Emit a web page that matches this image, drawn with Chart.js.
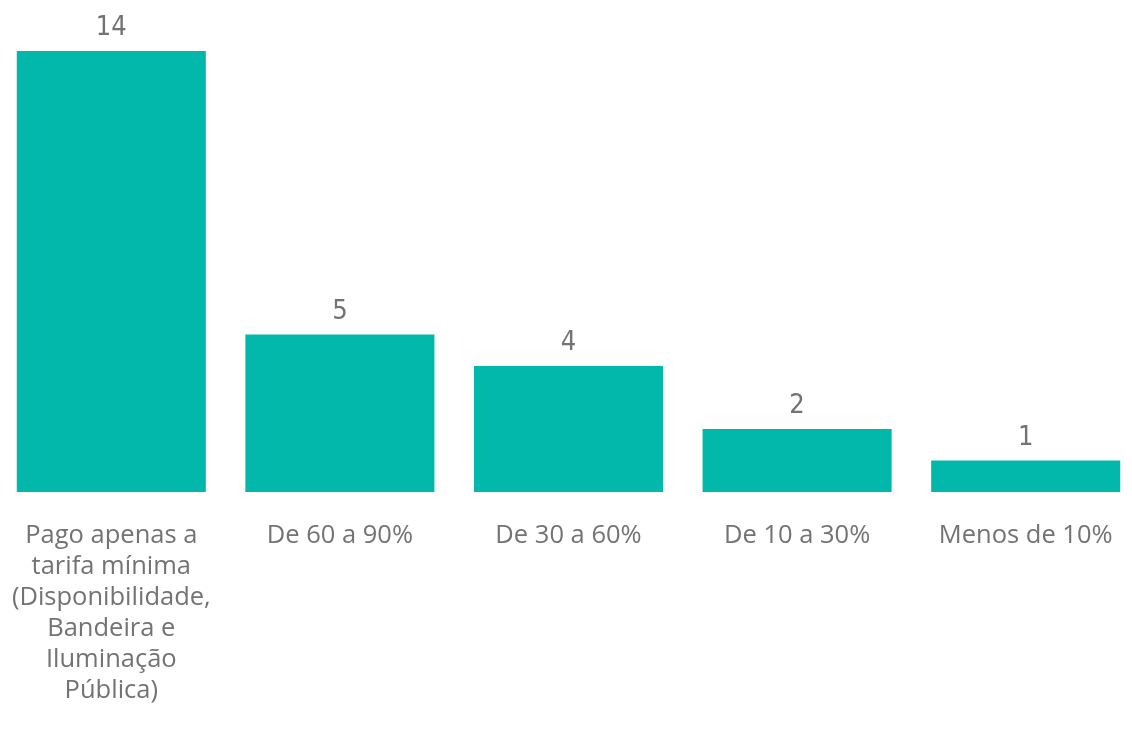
<!DOCTYPE html>
<html>
<head>
<meta charset="utf-8">
<script src="https://cdn.jsdelivr.net/npm/chart.js@4"></script>
<style>
  html, body { margin: 0; padding: 0; background: #fff; overflow: hidden; }
  #wrap { position: absolute; left: -3px; top: 0; width: 1143px; height: 731px; }
</style>
</head>
<body>
<div id="wrap"><canvas id="myChart"></canvas></div>
<script>
var categorias = [
    ['Pago apenas a', 'tarifa mínima', '(Disponibilidade,', 'Bandeira e', 'Iluminação', 'Pública)'],
    'De 60 a 90%',
    'De 30 a 60%',
    'De 10 a 30%',
    'Menos de 10%'
];
var respostas = [14, 5, 4, 2, 1];

// draws the number above each bar
var valoresPlugin = {
    id: 'valores',
    afterDatasetsDraw: function(chart) {
        var ctx = chart.ctx;
        var meta = chart.getDatasetMeta(0);
        ctx.save();
        ctx.font = '27px "DejaVu Sans Condensed", "DejaVu Sans"';
        ctx.fillStyle = '#737373';
        ctx.textAlign = 'center';
        ctx.textBaseline = 'middle';
        meta.data.forEach(function(bar, i) {
            ctx.fillText(respostas[i], bar.x, bar.y - 23);
        });
        ctx.restore();
    }
};

var ctx = document.getElementById('myChart').getContext('2d');
var chart = new Chart(ctx, {
    type: 'bar',
    data: {
        labels: categorias,
        datasets: [{
            label: 'Respostas',
            backgroundColor: '#01B8AA',
            data: respostas,
            categoryPercentage: 1,
            barPercentage: 0.827
        }]
    },
    options: {
        responsive: true,
        maintainAspectRatio: false,
        animation: false,
        layout: { padding: { top: 51, left: 0, right: 0, bottom: 25 } },
        plugins: {
            legend: { display: false },
            tooltip: { enabled: false }
        },
        scales: {
            x: {
                grid: { display: false, drawTicks: false },
                border: { display: false },
                ticks: {
                    color: '#737373',
                    padding: 28,
                    maxRotation: 0,
                    autoSkip: false,
                    font: { family: '"Open Sans"', size: 25.5, lineHeight: 1.215 }
                },
                // labels fit inside their columns, so no side padding needed
                afterFit: function(scale) {
                    scale.paddingLeft = 0;
                    scale.paddingRight = 0;
                    scale.height = 214;
                }
            },
            y: {
                display: false,
                min: 0,
                max: 14
            }
        }
    },
    plugins: [valoresPlugin]
});
</script>
</body>
</html>
